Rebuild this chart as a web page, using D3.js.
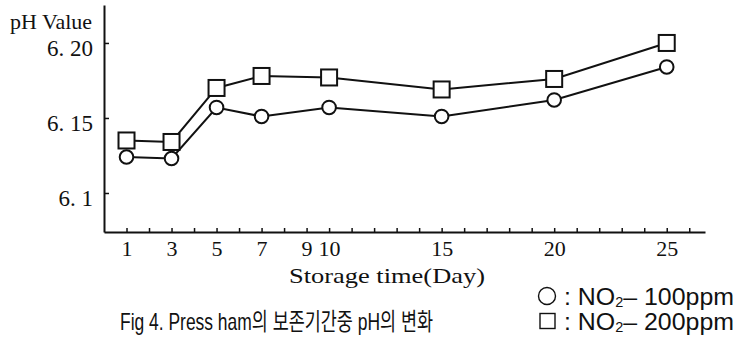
<!DOCTYPE html>
<html>
<head>
<meta charset="utf-8">
<script src="https://cdn.jsdelivr.net/npm/d3@7/dist/d3.min.js"></script>
<style>
  html, body { margin: 0; padding: 0; background: #fff; }
  svg { display: block; }
  .serif { font-family: "Liberation Serif", "DejaVu Serif", serif; fill: #111; }
  .sans { font-family: "Liberation Sans", "Noto Sans CJK KR", sans-serif; fill: #111; }
</style>
</head>
<body>
<svg id="chart" width="743" height="342"></svg>
<script>
// Storage days sampled and pH readings for each nitrite level
const days = [1, 3, 5, 7, 10, 15, 20, 25];
const ph100 = [6.124, 6.123, 6.157, 6.151, 6.157, 6.151, 6.162, 6.184];
const ph200 = [6.135, 6.134, 6.170, 6.178, 6.177, 6.169, 6.176, 6.200];

// Axis ticks
const dayTicks = d3.range(1, 27);
const dayLabels = [1, 3, 5, 7, 9, 10, 15, 20, 25];
const phTicks = [6.1, 6.15, 6.2];
const phTickText = ["6. 1", "6. 15", "6. 20"];

const svg = d3.select("#chart");
const ink = "#111";

const x = d3.scaleLinear().domain([0, 26.7]).range([104, 705]);
const y = d3.scaleLinear().domain([6.074, 6.2253]).range([232, 5]);

// X axis: small inward ticks every day, labels only on selected days
const xAxis = svg.append("g")
  .attr("transform", `translate(0,${y.range()[0]})`)
  .call(d3.axisBottom(x)
    .tickValues(dayTicks)
    .tickSizeInner(-4)
    .tickSizeOuter(0)
    .tickPadding(8)
    .tickFormat(d => dayLabels.includes(d) ? String(d) : ""));
xAxis.select(".domain").attr("stroke", ink).attr("stroke-width", 2);
xAxis.selectAll(".tick line").attr("stroke", ink).attr("stroke-width", 1.5);
xAxis.selectAll(".tick text")
  .attr("class", "serif")
  .attr("font-size", 22)
  .attr("fill", ink);

// Y axis
const yAxis = svg.append("g")
  .attr("transform", `translate(${x.range()[0]},0)`)
  .call(d3.axisLeft(y)
    .tickValues(phTicks)
    .tickSizeInner(-5)
    .tickSizeOuter(0)
    .tickPadding(11)
    .tickFormat((d, i) => phTickText[i]));
yAxis.select(".domain").attr("stroke", ink).attr("stroke-width", 2);
yAxis.selectAll(".tick line").attr("stroke", ink).attr("stroke-width", 1.5);
yAxis.selectAll(".tick text")
  .attr("class", "serif")
  .attr("font-size", 23)
  .attr("dy", "0.55em")
  .attr("fill", ink);

// Axis titles
svg.append("text")
  .attr("class", "serif")
  .attr("x", 92).attr("y", 29)
  .attr("text-anchor", "end")
  .attr("font-size", 21)
  .attr("textLength", 82)
  .attr("lengthAdjust", "spacingAndGlyphs")
  .text("pH Value");

svg.append("text")
  .attr("class", "serif")
  .attr("x", 387).attr("y", 283)
  .attr("text-anchor", "middle")
  .attr("font-size", 22)
  .attr("textLength", 196)
  .attr("lengthAdjust", "spacingAndGlyphs")
  .text("Storage time(Day)");

// Series lines
const line = d3.line()
  .x(d => x(d[0]))
  .y(d => y(d[1]));

const series = [
  { key: "100", values: days.map((d, i) => [d, ph100[i]]), shape: "circle" },
  { key: "200", values: days.map((d, i) => [d, ph200[i]]), shape: "square" }
];

series.forEach(s => {
  svg.append("path")
    .datum(s.values)
    .attr("fill", "none")
    .attr("stroke", ink)
    .attr("stroke-width", 2)
    .attr("d", line);
});

// Markers
const circleR = 6.8;
const squareS = 16;

svg.append("g").selectAll("circle")
  .data(series[0].values)
  .join("circle")
  .attr("cx", d => x(d[0]))
  .attr("cy", d => y(d[1]))
  .attr("r", circleR)
  .attr("fill", "#fff")
  .attr("stroke", ink)
  .attr("stroke-width", 2);

svg.append("g").selectAll("rect")
  .data(series[1].values)
  .join("rect")
  .attr("x", d => x(d[0]) - squareS / 2)
  .attr("y", d => y(d[1]) - squareS / 2)
  .attr("width", squareS)
  .attr("height", squareS)
  .attr("fill", "#fff")
  .attr("stroke", ink)
  .attr("stroke-width", 2);

// Legend
const legend = [
  { shape: "circle", ppm: "100ppm", yc: 296 },
  { shape: "square", ppm: "200ppm", yc: 321 }
];
legend.forEach(l => {
  if (l.shape === "circle") {
    svg.append("circle")
      .attr("cx", 547).attr("cy", l.yc).attr("r", 8.5)
      .attr("fill", "#fff").attr("stroke", ink).attr("stroke-width", 1.4);
  } else {
    svg.append("rect")
      .attr("x", 540).attr("y", l.yc - 7.5).attr("width", 15).attr("height", 15)
      .attr("fill", "#fff").attr("stroke", ink).attr("stroke-width", 1.4);
  }
  const t = svg.append("text")
    .attr("class", "sans")
    .attr("x", 564).attr("y", l.yc + 8.5)
    .attr("font-size", 24)
    .attr("textLength", 170)
    .attr("lengthAdjust", "spacingAndGlyphs");
  t.append("tspan").text(": NO");
  t.append("tspan").attr("font-size", 14).attr("dy", 2).text("2");
  t.append("tspan").attr("dy", -2).text("\u2013 " + l.ppm);
});

// Figure caption
svg.append("text")
  .attr("class", "sans")
  .attr("x", 120).attr("y", 330)
  .attr("font-size", 24)
  .attr("textLength", 313)
  .attr("lengthAdjust", "spacingAndGlyphs")
  .text("Fig 4. Press ham의 보존기간중 pH의 변화");
</script>
</body>
</html>
